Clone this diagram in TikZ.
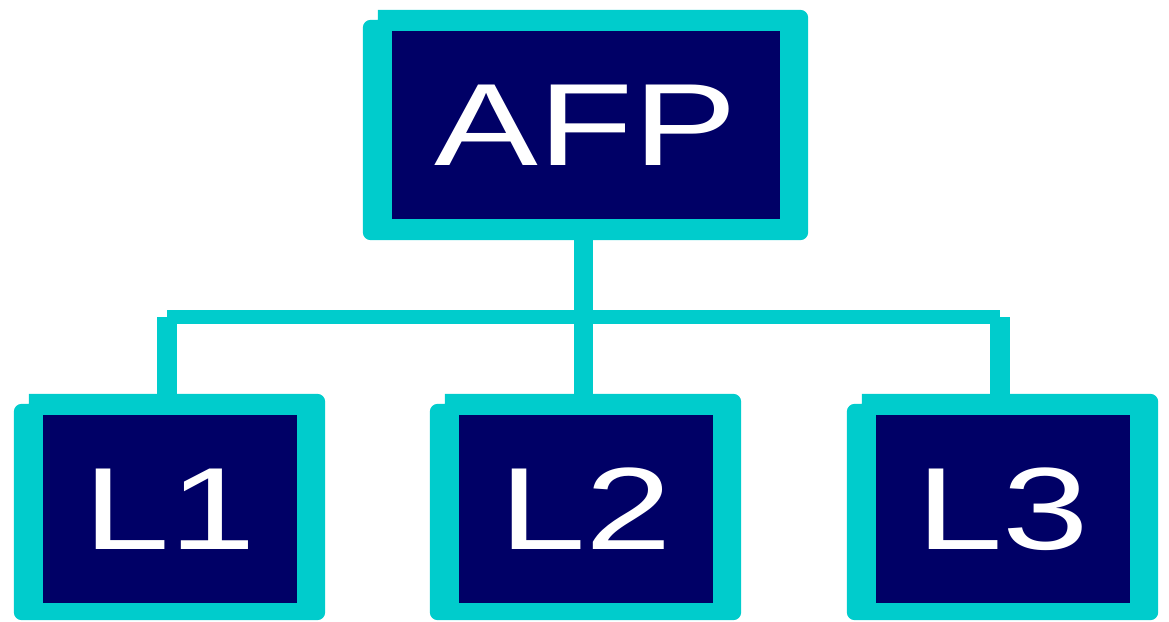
\documentclass[tikz,border=0pt]{standalone}
\usepackage{graphicx}
\usepackage{fontspec}
\setmainfont{Liberation Sans}
\usetikzlibrary{calc,backgrounds}
\definecolor{frcyan}{RGB}{0,204,204}
\definecolor{boxnavy}{RGB}{0,0,102}
\tikzset{
  inbox/.style={fill=boxnavy, draw=none, inner sep=0pt, text=white,
    font=\fontsize{117}{117}\selectfont},
  topbox/.style={inbox, minimum width=388pt, minimum height=188pt},
  lowbox/.style={inbox, minimum width=254pt, minimum height=188pt},
  framefill/.style={fill=frcyan},
  vconn/.style={draw=frcyan, line width=19.5pt, line cap=butt},
  hconn/.style={draw=frcyan, line width=14pt, line cap=butt}
}
\newcommand\cyanframe[2]{%
  \fill[framefill] ([shift={(-14,-21)}]#1.north west) [rounded corners=8pt]
    -- ([shift={(28,-21)}]#1.north east)
    -- ([shift={(28,#2)}]#1.south east)
    -- ([shift={(-29,#2)}]#1.south west)
    -- ([shift={(-29,-11)}]#1.north west) [sharp corners]
    -- ([shift={(-14,-11)}]#1.north west) -- cycle;}
\newcommand\stretched[1]{\scalebox{1.33}[1]{#1}}
\begin{document}
\begin{tikzpicture}[x=1pt, y=-1pt]
  \useasboundingbox (0,0) rectangle (1169,621);
  \node[topbox] (afp) at (586,125) {\stretched{AFP}};
  \node[lowbox] (l1) at (170,509) {\stretched{L1}};
  \node[lowbox] (l2) at (586,509) {\stretched{L2}};
  \node[lowbox] (l3) at (1003,509) {\stretched{L3}};
  \coordinate (j) at ($(afp.south)!0.5!(l2.north)$);
  \begin{pgfonlayer}{background}
    \draw[vconn] ([xshift=-2.5pt]afp.south) -- ([xshift=-2.5pt]l2.north);
    \draw[hconn] ([xshift=-3pt]l1.north |- j) -- ([xshift=-3pt]l3.north |- j);
    \draw[vconn] ([xshift=-3pt]l1.north |- j) -- ([xshift=-3pt]l1.north);
    \draw[vconn] ([xshift=-3pt]l3.north |- j) -- ([xshift=-3pt]l3.north);
    \cyanframe{afp}{21}
    \cyanframe{l1}{17}
    \cyanframe{l2}{17}
    \cyanframe{l3}{17}
  \end{pgfonlayer}
\end{tikzpicture}
\end{document}
